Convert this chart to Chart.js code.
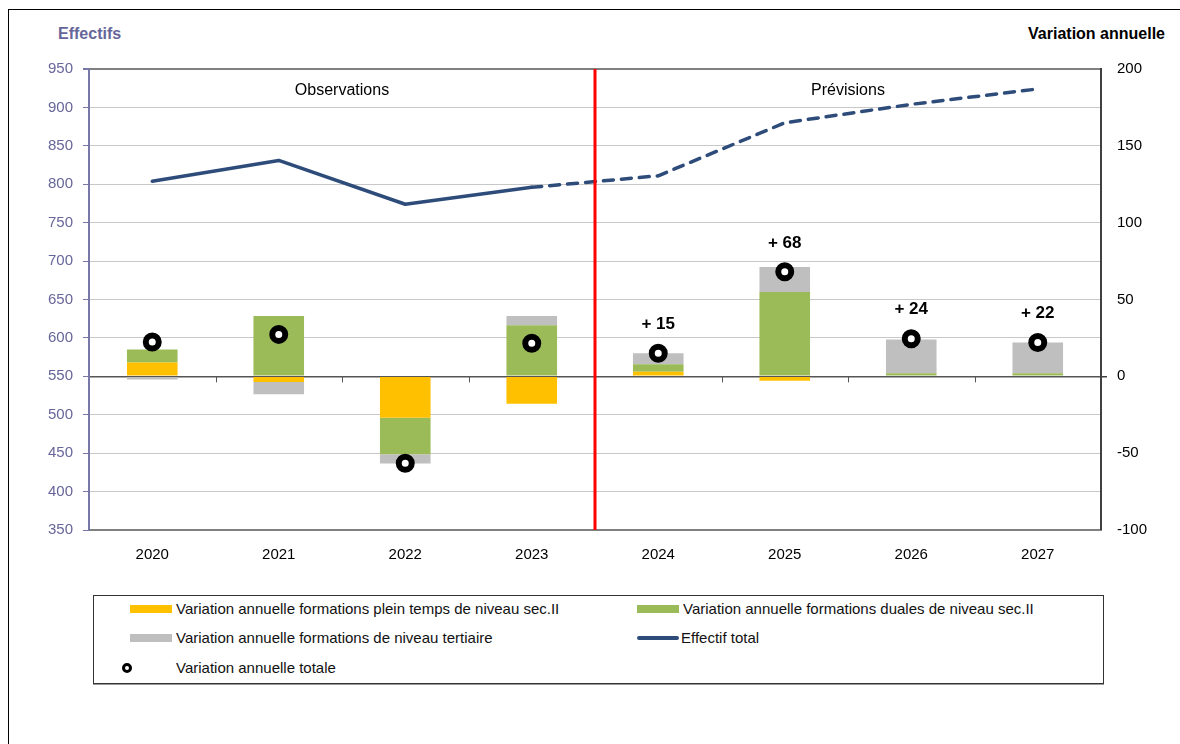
<!DOCTYPE html>
<html>
<head>
<meta charset="utf-8">
<script src="https://cdn.jsdelivr.net/npm/chart.js@4.4.1/dist/chart.umd.min.js"></script>
<style>
  body { margin: 0; background: #fff; font-family: "Liberation Sans", Arial, sans-serif; }
  #frame { position: absolute; left: 8px; top: 9px; width: 1200px; height: 800px; border-left: 1px solid #000; border-top: 1px solid #000; }
  #wrap { position: absolute; left: 0; top: 0; width: 1180px; height: 560px; }
  .ttl { position: absolute; top: 25px; font-weight: bold; font-size: 16px; }
  #legend { position: absolute; left: 93px; top: 595px; width: 1009px; height: 87px; border: 1px solid #333; box-shadow: 0 1px 0 #999; font-size: 15px; color: #111; }
  .it { position: absolute; height: 20px; line-height: 20px; white-space: nowrap; }
  .sw { display: inline-block; width: 42px; height: 8px; vertical-align: middle; margin-right: 4px; position: relative; top: -1px; }
  .dot { position: absolute; width: 4px; height: 4px; border: 3px solid #000; border-radius: 50%; background: #fff; }
</style>
</head>
<body>
<div id="frame"></div>
<div class="ttl" style="left:58px;color:#66669a;">Effectifs</div>
<div class="ttl" style="right:15px;color:#000;">Variation annuelle</div>
<div id="wrap"><canvas id="c"></canvas></div>
<div id="legend">
  <div class="it" style="left:36px;top:3px;"><span class="sw" style="background:#ffc000"></span>Variation annuelle formations plein temps de niveau sec.II</div>
  <div class="it" style="left:543px;top:3px;"><span class="sw" style="background:#9bbb59"></span>Variation annuelle formations duales de niveau sec.II</div>
  <div class="it" style="left:36px;top:32px;"><span class="sw" style="background:#bfbfbf"></span>Variation annuelle formations de niveau tertiaire</div>
  <div class="it" style="left:543px;top:32px;"><span class="sw" style="background:#2e4c7a;height:4px;border-radius:2px;margin-right:2px"></span>Effectif total</div>
  <div class="dot" style="left:28px;top:67px;"></div>
  <div class="it" style="left:82px;top:62px;">Variation annuelle totale</div>
</div>
<script>
var years = ['2020', '2021', '2022', '2023', '2024', '2025', '2026', '2027'];
var pleinTemps = [9, -3.7, -26.9, -17.8, 3, -2.8, 0, 0];
var duales = [8.5, 39.2, -23.8, 33.2, 4.8, 54.8, 2, 2];
var tertiaire = [-2, -8, -6.1, 6, 7.2, 16.3, 22, 20];
var variationTotale = [22.3, 27.3, -56.6, 21.5, 15, 68, 24.5, 22];
var effectifTotal = [804, 831, 774, 796, 811, 880, 904, 924];
var dotLabels = ['', '', '', '', '+ 15', '+ 68', '+ 24', '+ 22'];
var leftTicks = [350, 950, 50];
var rightTicks = [-100, 200, 50];
var lastObs = 3;

var font = { family: '"Liberation Sans", Arial, sans-serif', size: 15 };

// red separator, zero-line ticks, period labels, dot labels
var extras = {
    id: 'extras',
    beforeDatasetsDraw: function (chart) {
        var ctx = chart.ctx, x = chart.scales.x, y1 = chart.scales.y1;
        var step = x.getPixelForValue(1) - x.getPixelForValue(0);
        var y0 = y1.getPixelForValue(0);
        ctx.save();
        ctx.strokeStyle = '#555';
        ctx.lineWidth = 1;
        for (var i = 1; i < years.length; i++) {
            var px = Math.round(x.getPixelForValue(i) - step / 2) + 0.5;
            ctx.beginPath();
            ctx.moveTo(px, y0);
            ctx.lineTo(px, y0 + 6);
            ctx.stroke();
        }
        ctx.restore();
    },
    afterDatasetsDraw: function (chart) {
        var ctx = chart.ctx, x = chart.scales.x, a = chart.chartArea;
        var step = x.getPixelForValue(1) - x.getPixelForValue(0);
        var sep = x.getPixelForValue(lastObs) + step / 2;
        ctx.save();
        ctx.strokeStyle = '#ff0000';
        ctx.lineWidth = 3;
        ctx.beginPath();
        ctx.moveTo(sep, a.top);
        ctx.lineTo(sep, a.bottom);
        ctx.stroke();

        ctx.fillStyle = '#000';
        ctx.font = '16px "Liberation Sans", Arial, sans-serif';
        ctx.textAlign = 'center';
        ctx.textBaseline = 'middle';
        ctx.fillText('Observations', (a.left + sep) / 2, a.top + 22);
        ctx.fillText('Prévisions', (sep + a.right) / 2, a.top + 22);

        ctx.font = 'bold 17px "Liberation Sans", Arial, sans-serif';
        var meta = chart.getDatasetMeta(3);
        meta.data.forEach(function (pt, i) {
            if (dotLabels[i]) ctx.fillText(dotLabels[i], pt.x, pt.y - 29);
        });
        ctx.restore();
    }
};

new Chart(document.getElementById('c'), {
    type: 'bar',
    data: {
        labels: years,
        datasets: [
            { label: 'Variation annuelle formations plein temps de niveau sec.II', data: pleinTemps, backgroundColor: '#ffc000', yAxisID: 'y1', stack: 'bars', order: 3 },
            { label: 'Variation annuelle formations duales de niveau sec.II', data: duales, backgroundColor: '#9bbb59', yAxisID: 'y1', stack: 'bars', order: 3 },
            { label: 'Variation annuelle formations de niveau tertiaire', data: tertiaire, backgroundColor: '#bfbfbf', yAxisID: 'y1', stack: 'bars', order: 3 },
            {
                type: 'line', label: 'Variation annuelle totale', data: variationTotale, yAxisID: 'y1', stack: 'dots', order: 0,
                showLine: false, pointRadius: 6.5, pointBorderWidth: 6, pointBorderColor: '#000', pointBackgroundColor: '#fff'
            },
            {
                type: 'line', label: 'Effectif total', data: effectifTotal, yAxisID: 'y', order: 1,
                borderColor: '#2e4c7a', borderWidth: 3.5, pointRadius: 0, borderJoinStyle: 'round', borderCapStyle: 'round',
                segment: { borderDash: function (c) { return c.p0DataIndex >= lastObs ? [10, 8] : undefined; } }
            }
        ]
    },
    options: {
        responsive: true,
        maintainAspectRatio: false,
        animation: false,
        layout: { padding: { top: 69, left: 0, right: 0, bottom: 0 } },
        datasets: { bar: { categoryPercentage: 0.8, barPercentage: 0.5 } },
        plugins: { legend: { display: false }, tooltip: { enabled: false } },
        scales: {
            x: {
                grid: { display: false },
                border: { color: '#808080', width: 2 },
                ticks: { color: '#000', font: font, padding: 8 },
                afterFit: function (s) { s.height = 30; }
            },
            y: {
                position: 'left',
                min: leftTicks[0], max: leftTicks[1],
                ticks: { stepSize: leftTicks[2], color: '#66669a', font: font, padding: 10 },
                grid: {
                    tickLength: 6,
                    color: function (c) { return c.tick.value === 950 ? '#808080' : '#c8c8c8'; },
                    lineWidth: function (c) { return c.tick.value === 950 ? 2 : 1; },
                    tickColor: '#7777a8'
                },
                border: { color: '#7777a8', width: 2 },
                afterFit: function (s) { s.width = 89; }
            },
            y1: {
                position: 'right',
                stacked: true,
                min: rightTicks[0], max: rightTicks[1],
                ticks: { stepSize: rightTicks[2], color: '#000', font: font, padding: 10 },
                grid: {
                    tickLength: 6,
                    color: function (c) { return c.tick.value === 0 ? '#555' : 'rgba(0,0,0,0)'; },
                    lineWidth: function (c) { return c.tick.value === 0 ? 1.5 : 0; },
                    tickColor: '#404040'
                },
                border: { color: '#404040', width: 2 },
                afterFit: function (s) { s.width = 79; }
            }
        }
    },
    plugins: [extras]
});
</script>
</body>
</html>
